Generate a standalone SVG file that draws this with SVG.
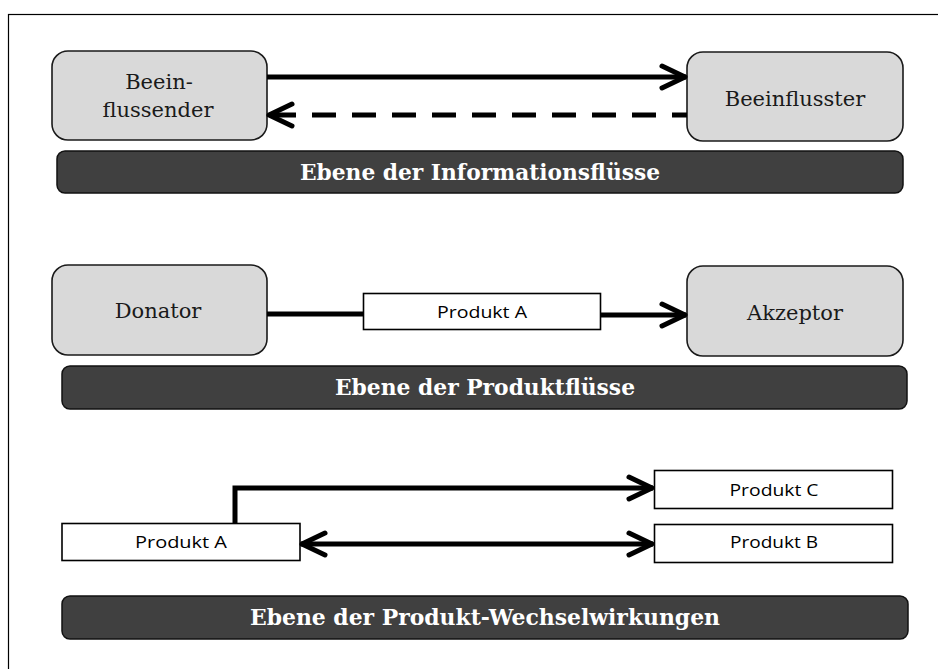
<svg xmlns="http://www.w3.org/2000/svg" width="938" height="669" viewBox="0 0 938 669">
  <defs>
    <style>
      .frame { fill: none; stroke: #000; stroke-width: 1.2; }
      .actor { fill: #d9d9d9; stroke: #1a1a1a; stroke-width: 1.6; }
      .actor-label { font-family: "DejaVu Serif", "Liberation Serif", serif; font-size: 21px; fill: #1a1a1a; text-anchor: middle; }
      .product { fill: #fff; stroke: #000; stroke-width: 1.6; }
      .product-label { font-family: "Open Sans", "Liberation Sans", sans-serif; font-size: 16px; fill: #000; text-anchor: middle; }
      .band { fill: #404040; stroke: #111; stroke-width: 1.5; }
      .band-label { font-family: "DejaVu Serif", "Liberation Serif", serif; font-weight: bold; font-size: 22px; fill: #fff; text-anchor: middle; }
      .flow { fill: none; stroke: #000; stroke-width: 5; }
      .dashed { stroke-dasharray: 24 16; stroke-dashoffset: 9; }
    </style>
    <marker id="chevron" markerUnits="userSpaceOnUse" viewBox="-30 -16 34 32" markerWidth="34" markerHeight="32" refX="0" refY="0" orient="auto-start-reverse">
      <path d="M-24,-11 L-1,0 L-24,11" fill="none" stroke="#000" stroke-width="5" stroke-linecap="round" stroke-linejoin="round" stroke-dasharray="none"/>
    </marker>
  </defs>

  <rect class="frame" x="8.5" y="14.5" width="940" height="700"/>

  <!-- Information flows -->
  <g id="beeinflussender">
    <rect class="actor" x="52" y="51" width="215" height="89" rx="16"/>
    <text class="actor-label" x="159" y="89">Beein-</text>
    <text class="actor-label" x="158" y="117">flussender</text>
  </g>
  <g id="beeinflusster">
    <rect class="actor" x="687" y="52" width="216" height="89" rx="16"/>
    <text class="actor-label" x="795" y="106">Beeinflusster</text>
  </g>
  <g id="band-information">
    <rect class="band" x="57" y="151" width="846" height="42" rx="8"/>
    <text class="band-label" x="480" y="180" textLength="360" lengthAdjust="spacingAndGlyphs">Ebene der Informationsflüsse</text>
  </g>

  <!-- Product flows -->
  <g id="donator">
    <rect class="actor" x="52" y="265" width="215" height="90" rx="16"/>
    <text class="actor-label" x="158" y="318">Donator</text>
  </g>
  <g id="akzeptor">
    <rect class="actor" x="687" y="266" width="216" height="90" rx="16"/>
    <text class="actor-label" x="795" y="320">Akzeptor</text>
  </g>
  <g id="produkt-a-flow">
    <rect class="product" x="363.5" y="293.5" width="237" height="36"/>
    <text class="product-label" x="482" y="318" textLength="90" lengthAdjust="spacingAndGlyphs">Produkt A</text>
  </g>
  <g id="band-produkt">
    <rect class="band" x="62" y="366" width="845" height="43" rx="8"/>
    <text class="band-label" x="485" y="395" textLength="300" lengthAdjust="spacingAndGlyphs">Ebene der Produktflüsse</text>
  </g>

  <!-- Product interactions -->
  <g id="produkt-a">
    <rect class="product" x="62" y="523.5" width="238" height="37"/>
    <text class="product-label" x="181" y="548" textLength="92" lengthAdjust="spacingAndGlyphs">Produkt A</text>
  </g>
  <g id="produkt-c">
    <rect class="product" x="654.5" y="470.5" width="238" height="38"/>
    <text class="product-label" x="774" y="496" textLength="89" lengthAdjust="spacingAndGlyphs">Produkt C</text>
  </g>
  <g id="produkt-b">
    <rect class="product" x="654.5" y="524.5" width="238" height="38"/>
    <text class="product-label" x="774" y="548" textLength="88" lengthAdjust="spacingAndGlyphs">Produkt B</text>
  </g>
  <g id="band-wechselwirkungen">
    <rect class="band" x="62" y="596" width="846" height="43" rx="8"/>
    <text class="band-label" x="485" y="625" textLength="470" lengthAdjust="spacingAndGlyphs">Ebene der Produkt-Wechselwirkungen</text>
  </g>

  <!-- Connectors -->
  <g id="connectors">
    <path class="flow" d="M267,77 H686" marker-end="url(#chevron)"/>
    <path class="flow dashed" d="M687,115 H268" marker-end="url(#chevron)"/>
    <path class="flow" d="M267,314 H363"/>
    <path class="flow" d="M601,315 H686" marker-end="url(#chevron)"/>
    <path class="flow" d="M235,523 V488 H653" stroke-linejoin="miter" marker-end="url(#chevron)"/>
    <path class="flow" d="M301,544 H653" marker-start="url(#chevron)" marker-end="url(#chevron)"/>
  </g>
</svg>
